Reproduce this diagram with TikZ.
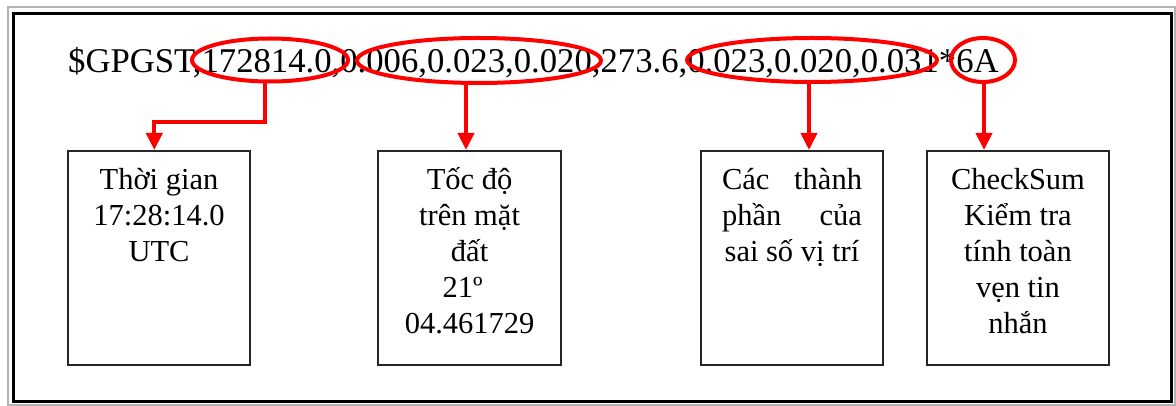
\documentclass[tikz,border=0pt]{standalone}
\usepackage{fontspec}
\setmainfont{Liberation Serif}
\usetikzlibrary{arrows.meta,shapes.geometric}
\begin{document}
\begin{tikzpicture}[x=1pt,y=-1pt,
  box/.style={draw=black!85, line width=2pt, minimum width=182.6pt, minimum height=214pt, anchor=north west, inner sep=0pt},
  oval/.style={draw=red, line width=4pt, ellipse, inner sep=0pt},
  arr/.style={draw=red, line width=4pt, -{Triangle[width=16pt,length=17pt]}},
  lbl/.style={anchor=base, inner sep=0pt, font=\fontsize{30.5}{36}\selectfont},
  codefont/.style={font=\fontsize{34.7}{40}\selectfont}]
\useasboundingbox (0,0) rectangle (1176,406);
% frame
\draw[gray!60, line width=2pt] (7.5,7.5) rectangle (1174.5,404.5);
\draw[black, line width=3pt] (13.5,14) rectangle (1171.5,401.5);
% code line
\node[codefont, anchor=base west, inner sep=0pt] (code) at (68,73) {\$GPGST,172814.0,0.006,0.023,0.020,273.6,0.023,0.020,0.031*6A};
% ellipses
\node[oval, minimum width=156pt, minimum height=43pt] (e1) at (270,60) {};
\node[oval, minimum width=244pt, minimum height=45pt] (e2) at (479,60.5) {};
\node[oval, minimum width=250pt, minimum height=44pt] (e3) at (812,60) {};
\node[oval, minimum width=64pt, minimum height=44pt] (e4) at (983,60) {};
% boxes
\node[box] (b1) at (66.7,150) {};
\node[box] (b2) at (377.3,150) {};
\node[box, minimum width=182pt] (b3) at (700,150) {};
\node[box, minimum width=182pt] (b4) at (926,150) {};
% labels
\node[lbl] (t1) at ([yshift=-40pt]b1.north) {\parbox[t]{180pt}{\centering Thời gian\\17:28:14.0\\UTC}};
\node[lbl] (t2) at ([yshift=-40pt]b2.north) {\parbox[t]{180pt}{\centering Tốc độ\\trên mặt\\đất\\21º\kern14pt\\04.461729}};
\node[lbl] (t3) at ([yshift=-40pt]b3.north) {\parbox[t]{180pt}{\centering\makebox[140pt][s]{Các thành}\\\makebox[140pt][s]{phần của}\\sai số vị trí}};
\node[lbl] (t4) at ([yshift=-40pt]b4.north) {\parbox[t]{180pt}{\centering CheckSum\\Kiểm tra\\tính toàn\\vẹn tin\\nhắn}};
% connectors
\coordinate (c1) at ([xshift=-4.7pt]b1.north);
\coordinate (c2) at ([xshift=-3.6pt]b2.north);
\coordinate (c3) at ([xshift=17pt]b3.north);
\coordinate (c4) at ([xshift=-34pt]b4.north);
\draw[arr] ([xshift=-5pt]e1.south) -- ++(0,38.5) -| (c1);
\draw[arr] (e2.south -| c2) -- (c2);
\draw[arr] (e3.south -| c3) -- (c3);
\draw[arr] (e4.south -| c4) -- (c4);
\end{tikzpicture}
\end{document}
